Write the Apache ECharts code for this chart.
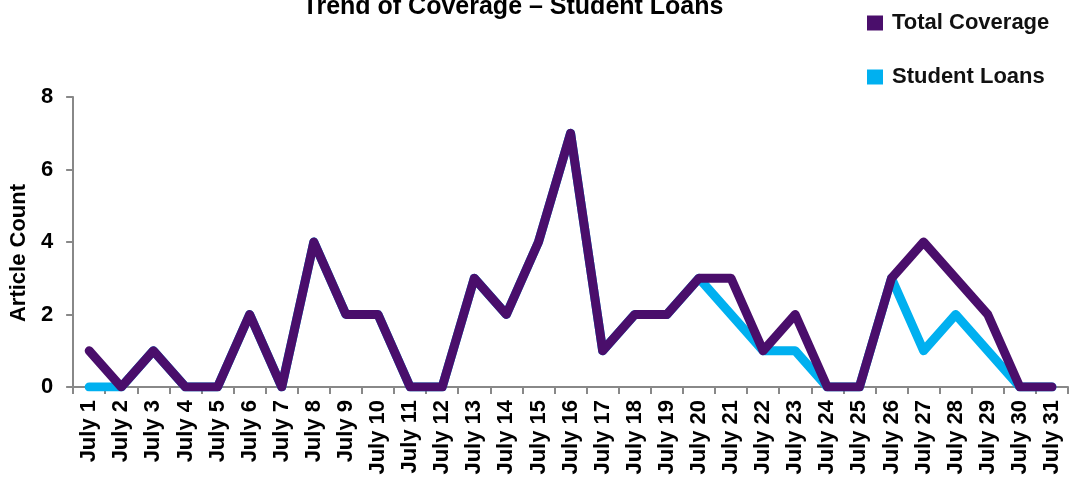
<!DOCTYPE html>
<html><head><meta charset="utf-8">
<script src="https://cdn.jsdelivr.net/npm/echarts@6/dist/echarts.min.js"></script>
<style>html,body{margin:0;padding:0;background:#fff}#c{width:1083px;height:485px}</style>
</head><body><div id="c"></div>
<script>
const categories = ["July 1","July 2","July 3","July 4","July 5","July 6","July 7","July 8","July 9","July 10","July 11","July 12","July 13","July 14","July 15","July 16","July 17","July 18","July 19","July 20","July 21","July 22","July 23","July 24","July 25","July 26","July 27","July 28","July 29","July 30","July 31"];
const totalCoverage = [1,0,1,0,0,2,0,4,2,2,0,0,3,2,4,7,1,2,2,3,3,1,2,0,0,3,4,3,2,0,0];
const studentLoans = [0,0,1,0,0,2,0,4,2,2,0,0,3,2,4,7,1,2,2,3,2,1,1,0,0,3,1,2,1,0,0];
const yTicks = [0,2,4,6,8];

const font = 'Liberation Sans, Arial, sans-serif';
const chart = echarts.init(document.getElementById('c'));
chart.setOption({
  animation: false,
  title: {
    text: 'Trend of Coverage \u2013 Student Loans',
    left: 508, top: -10, textAlign: 'center',
    textStyle: {fontFamily: font, fontSize: 25, fontWeight: 'bold', color: '#000'}
  },
  legend: {
    orient: 'vertical', left: 862, top: 7, itemGap: 32,
    itemWidth: 16, itemHeight: 15,
    data: [{name: 'Total Coverage', icon: 'rect'}, {name: 'Student Loans', icon: 'rect'}],
    textStyle: {fontFamily: font, fontSize: 22, fontWeight: 'bold', color: '#111', padding: [0,0,0,4]}
  },
  grid: {left: 70, right: 15, top: 97, bottom: 98, containLabel: false},
  xAxis: {
    type: 'category', data: categories, boundaryGap: true,
    axisLine: {lineStyle: {color: '#888', width: 2}},
    axisTick: {show: true, length: 7, lineStyle: {color: '#888', width: 2}},
    axisLabel: {rotate: 90, color: '#000', fontFamily: font, fontSize: 22, fontWeight: 'bold', margin: 13, interval: 0}
  },
  yAxis: {
    type: 'value', min: yTicks[0], max: yTicks[yTicks.length-1], interval: 2,
    name: 'Article Count', nameLocation: 'middle', nameGap: 38, nameRotate: 90,
    nameTextStyle: {fontFamily: font, fontSize: 22, fontWeight: 'bold', color: '#000', padding: [0,22,0,0]},
    splitLine: {show: false},
    axisLine: {show: true, lineStyle: {color: '#888', width: 2}},
    axisTick: {show: true, length: 7, lineStyle: {color: '#888', width: 2}},
    axisLabel: {color: '#000', fontFamily: font, fontSize: 22, fontWeight: 'bold', margin: 20}
  },
  series: [
    {name: 'Student Loans', type: 'line', data: studentLoans, symbol: 'none', z: 2,
     itemStyle: {color: '#00B0F0'},
     lineStyle: {color: '#00B0F0', width: 9, cap: 'round', join: 'round'}},
    {name: 'Total Coverage', type: 'line', data: totalCoverage, symbol: 'none', z: 3,
     itemStyle: {color: '#4A0E6B'},
     lineStyle: {color: '#4A0E6B', width: 9, cap: 'round', join: 'round'}}
  ]
});
</script></body></html>
